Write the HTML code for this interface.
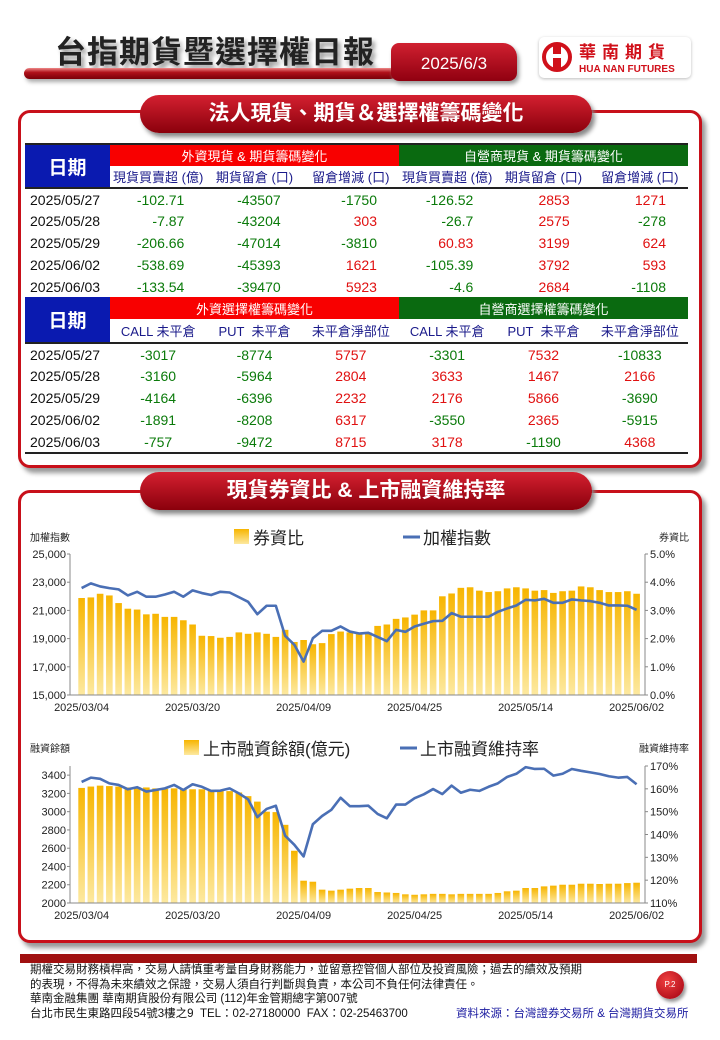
<!DOCTYPE html>
<html><head><meta charset="utf-8">
<style>
*{margin:0;padding:0;box-sizing:border-box}
body{width:720px;height:1040px;background:#fff;position:relative;overflow:hidden;font-family:"Liberation Sans","Noto Sans CJK TC",sans-serif}
.abs{position:absolute}
.title{left:55px;top:27px;font-size:31px;font-weight:bold;color:#222;letter-spacing:1px;text-shadow:3px 4px 4px #999}
.rod{left:24px;top:68px;width:372px;height:11px;border-radius:6px;background:linear-gradient(#e88,#b0101a 40%,#7a0008);box-shadow:2px 3px 4px #aaa}
.date{left:391px;top:43px;width:126px;height:38px;border-radius:8px 14px 8px 8px;background:linear-gradient(#d02030,#900010);color:#fff;font-size:17px;text-align:center;line-height:42px;box-shadow:2px 3px 4px #999}
.logo{left:539px;top:37px;width:152px;height:41px;border-radius:5px;background:#fff;box-shadow:0 1px 3px #bbb}
.box{left:18px;border:3px solid #c8101a;border-radius:12px;box-shadow:4px 5px 5px #999;background:#fff}
.pill{left:140px;width:452px;height:38px;border-radius:19px;background:linear-gradient(#d42030,#8a000c);color:#fff;font-size:21px;font-weight:bold;text-align:center;line-height:38px;box-shadow:3px 4px 5px #888}
table{border-collapse:collapse;position:absolute;left:25px;width:663px;font-size:14px;table-layout:fixed}
td{height:22px;padding:0;white-space:nowrap}
.hd{color:#fff;text-align:center;font-size:13px}
.sub{text-align:center;font-size:13px;color:#1a1a8a}
.g{color:#0a7a0a}.r{color:#e01010}
.n td{text-align:right;padding-right:22px}
.n td:first-child{text-align:left;padding-left:5px;padding-right:0;color:#111}
.m td{text-align:center}
.m td:first-child{text-align:left;padding-left:5px;color:#111}
.foot{left:30px;top:963px;font-size:11.5px;color:#111;line-height:14.5px}
</style></head><body>
<div class="abs title">台指期貨暨選擇權日報</div>
<div class="abs rod"></div>
<div class="abs date">2025/6/3</div>
<div class="abs logo">
 <svg width="152" height="41"><circle cx="18" cy="20" r="13" fill="none" stroke="#d0101a" stroke-width="4"/><rect x="14" y="7" width="8" height="26" fill="#d0101a"/><rect x="11" y="17" width="14" height="4" fill="#fff"/>
 <text x="40" y="21" font-size="17" font-weight="bold" fill="#d0101a" letter-spacing="6" font-family="Liberation Sans,Noto Sans CJK TC,sans-serif">華南期貨</text>
 <text x="40" y="35" font-size="10" font-weight="bold" fill="#d0101a" font-family="Liberation Sans,sans-serif">HUA NAN FUTURES</text></svg>
</div>

<div class="abs box" style="top:110px;width:684px;height:358px"></div>
<div class="abs pill" style="top:95px">法人現貨、期貨＆選擇權籌碼變化</div>

<table style="top:143px;border-bottom:1px solid #222">
<colgroup><col style="width:85px"><col><col><col><col><col><col></colgroup>
<tr><td rowspan="2" class="hd" style="background:#0a1ab0;font-size:19px;font-weight:bold;border-top:2px solid #222">日期</td><td colspan="3" class="hd" style="background:#f80000;border-top:2px solid #222">外資現貨 &amp; 期貨籌碼變化</td><td colspan="3" class="hd" style="background:#0a6a10;border-top:2px solid #222">自營商現貨 &amp; 期貨籌碼變化</td></tr>
<tr style="border-bottom:2px solid #222"><td class="sub">現貨買賣超 (億)</td><td class="sub">期貨留倉 (口)</td><td class="sub">留倉增減 (口)</td><td class="sub">現貨買賣超 (億)</td><td class="sub">期貨留倉 (口)</td><td class="sub">留倉增減 (口)</td></tr>
<tbody class="n">
<tr><td>2025/05/27</td><td class="g">-102.71</td><td class="g">-43507</td><td class="g">-1750</td><td class="g">-126.52</td><td class="r">2853</td><td class="r">1271</td></tr>
<tr><td>2025/05/28</td><td class="g">-7.87</td><td class="g">-43204</td><td class="r">303</td><td class="g">-26.7</td><td class="r">2575</td><td class="g">-278</td></tr>
<tr><td>2025/05/29</td><td class="g">-206.66</td><td class="g">-47014</td><td class="g">-3810</td><td class="r">60.83</td><td class="r">3199</td><td class="r">624</td></tr>
<tr><td>2025/06/02</td><td class="g">-538.69</td><td class="g">-45393</td><td class="r">1621</td><td class="g">-105.39</td><td class="r">3792</td><td class="r">593</td></tr>
<tr><td>2025/06/03</td><td class="g">-133.54</td><td class="g">-39470</td><td class="r">5923</td><td class="g">-4.6</td><td class="r">2684</td><td class="g">-1108</td></tr>
</tbody></table>

<table style="top:297px;border-bottom:2px solid #222">
<colgroup><col style="width:85px"><col><col><col><col><col><col></colgroup>
<tr><td rowspan="2" class="hd" style="background:#0a1ab0;font-size:19px;font-weight:bold">日期</td><td colspan="3" class="hd" style="background:#f80000">外資選擇權籌碼變化</td><td colspan="3" class="hd" style="background:#0a6a10">自營商選擇權籌碼變化</td></tr>
<tr style="border-bottom:2px solid #222"><td class="sub" style="height:24px">CALL 未平倉</td><td class="sub">PUT &nbsp;未平倉</td><td class="sub">未平倉淨部位</td><td class="sub">CALL 未平倉</td><td class="sub">PUT &nbsp;未平倉</td><td class="sub">未平倉淨部位</td></tr>
<tbody class="m">
<tr><td>2025/05/27</td><td class="g">-3017</td><td class="g">-8774</td><td class="r">5757</td><td class="g">-3301</td><td class="r">7532</td><td class="g">-10833</td></tr>
<tr><td>2025/05/28</td><td class="g">-3160</td><td class="g">-5964</td><td class="r">2804</td><td class="r">3633</td><td class="r">1467</td><td class="r">2166</td></tr>
<tr><td>2025/05/29</td><td class="g">-4164</td><td class="g">-6396</td><td class="r">2232</td><td class="r">2176</td><td class="r">5866</td><td class="g">-3690</td></tr>
<tr><td>2025/06/02</td><td class="g">-1891</td><td class="g">-8208</td><td class="r">6317</td><td class="g">-3550</td><td class="r">2365</td><td class="g">-5915</td></tr>
<tr><td>2025/06/03</td><td class="g">-757</td><td class="g">-9472</td><td class="r">8715</td><td class="r">3178</td><td class="g">-1190</td><td class="r">4368</td></tr>
</tbody></table>

<div class="abs box" style="top:490px;width:684px;height:453px"></div>
<div class="abs pill" style="top:472px">現貨券資比 &amp; 上市融資維持率</div>

<svg id="charts" class="abs" style="left:0;top:0" width="720" height="1040">
<defs><linearGradient id="bg" x1="0" y1="0" x2="0" y2="1"><stop offset="0" stop-color="#f7b500"/><stop offset="1" stop-color="#fde9a0"/></linearGradient></defs>
</svg>

<div class="abs" style="left:20px;top:954px;width:677px;height:9px;background:#a01010"></div>
<div class="abs foot">期權交易財務槓桿高，交易人請慎重考量自身財務能力，並留意控管個人部位及投資風險；過去的績效及預期<br>的表現，不得為未來績效之保證，交易人須自行判斷與負責，本公司不負任何法律責任。<br>華南金融集團 華南期貨股份有限公司 (112)年金管期總字第007號<br>台北市民生東路四段54號3樓之9 &nbsp;TEL：02-27180000 &nbsp;FAX：02-25463700</div>
<div class="abs" style="left:456px;top:1005px;font-size:11.5px;color:#1a1aa0">資料來源：台灣證券交易所 &amp; 台灣期貨交易所</div>
<div class="abs" style="left:656px;top:971px;width:28px;height:28px;border-radius:50%;background:radial-gradient(circle at 40% 35%,#f04040,#a00010);color:#fff;font-size:8px;text-align:center;line-height:28px;box-shadow:2px 3px 3px #999">P.2</div>

<script>
const dates=["2025/03/04","2025/03/20","2025/04/09","2025/04/25","2025/05/14","2025/06/02"];
const dateIdx=[0,12,24,36,48,60];
const ratio=[3.44,3.46,3.59,3.53,3.26,3.06,3.03,2.86,2.88,2.77,2.77,2.65,2.5,2.1,2.09,2.03,2.06,2.22,2.17,2.22,2.17,2.06,2.31,1.88,1.95,1.8,1.84,2.16,2.25,2.22,2.2,2.22,2.45,2.5,2.7,2.75,2.85,3.0,3.0,3.5,3.6,3.8,3.82,3.7,3.65,3.68,3.78,3.82,3.78,3.7,3.72,3.62,3.68,3.7,3.85,3.82,3.72,3.65,3.65,3.68,3.59];
const taiex=[22583,22915,22700,22580,22490,22060,22320,21970,21970,22130,22320,21970,22420,22230,22090,22320,22270,21940,21610,20730,21330,21330,19200,18560,17370,19030,19550,19550,19860,19500,19360,19410,19120,18820,19620,19480,19860,20050,20240,20260,20810,20550,20550,20550,20550,20900,21140,21350,21750,21710,21820,21540,21540,21780,21710,21660,21540,21350,21350,21330,21040];
const margin=[3260,3275,3285,3280,3275,3265,3270,3265,3255,3250,3255,3250,3245,3245,3240,3235,3225,3210,3170,3110,3000,2995,2856,2572,2244,2233,2146,2135,2146,2157,2164,2164,2120,2115,2110,2095,2090,2095,2100,2100,2095,2100,2100,2100,2100,2110,2128,2135,2164,2164,2182,2190,2200,2200,2211,2211,2208,2211,2211,2218,2222];
const maint=[163.0,164.9,164.4,162.4,161.7,159.8,160.7,158.8,159.5,160.2,161.7,159.5,162.0,160.9,159.1,159.2,160.2,158.0,155.4,147.6,151.2,152.6,139.5,135.5,130.4,144.5,148.1,150.8,156.1,152.4,152.4,152.6,149.0,147.1,153.1,153.1,155.9,157.6,159.9,157.7,161.4,158.3,159.6,159.1,160.9,162.4,165.2,166.6,169.5,168.7,168.8,165.8,166.6,168.7,167.9,167.2,166.5,165.5,164.9,165.2,162.0];
const t1L=[15000,17000,19000,21000,23000,25000];
const t1R=[0,1,2,3,4,5];
const t2L=[2000,2200,2400,2600,2800,3000,3200,3400];
const t2R=[110,120,130,140,150,160,170];

const svg=document.getElementById('charts');
const NS='http://www.w3.org/2000/svg';
function mk(tag,attrs,txt){const e=document.createElementNS(NS,tag);for(const k in attrs)e.setAttribute(k,attrs[k]);if(txt!==undefined)e.textContent=txt;svg.appendChild(e);return e;}
const x0=81.6,x1=636.6;
const xs=i=>x0+(x1-x0)*i/60;
function fmt(v){return v.toLocaleString('en-US');}

function chart(o){
  const yL=v=>o.bot-(v-o.lmin)/(o.lmax-o.lmin)*(o.bot-o.top);
  const yR=v=>o.bot-(v-o.rmin)/(o.rmax-o.rmin)*(o.bot-o.top);
  const yB=o.barRight?yR:yL, yN=o.barRight?yL:yR;
  o.bars.forEach((v,i)=>{
    const b=mk('rect',{x:xs(i)-3.3,y:yB(v),width:6.6,height:o.bot-yB(v),fill:'url(#bg)'});
    
    
  });
  const ax=mk('path',{d:`M${o.lx} ${o.top}V${o.bot}H${o.rx}V${o.top}`,stroke:'#888',fill:'none','stroke-width':1});
  
  
  o.tl.forEach(v=>{const t=mk('text',{x:o.lx-4,y:yL(v)+4,'font-size':11,'text-anchor':'end',fill:'#222'},o.lf(v));
    
    mk('line',{x1:o.lx-3,x2:o.lx,y1:yL(v),y2:yL(v),stroke:'#888'});});
  o.tr.forEach(v=>{const t=mk('text',{x:o.rx+5,y:yR(v)+4,'font-size':11,fill:'#222'},o.rf(v));
    
    mk('line',{x1:o.rx,x2:o.rx+3,y1:yR(v),y2:yR(v),stroke:'#888'});});
  dates.forEach((d,k)=>{const t=mk('text',{x:xs(dateIdx[k]),y:o.bot+16,'font-size':11,'text-anchor':'middle',fill:'#222'},d);
    });
  const p=mk('polyline',{points:o.line.map((v,i)=>xs(i)+','+yN(v)).join(' '),fill:'none',stroke:'#4a6fb5','stroke-width':2.6,'stroke-linejoin':'round'});
  
  
}
chart({top:554,bot:695,lx:70,rx:645,lmin:15000,lmax:25000,rmin:0,rmax:5,bars:ratio,barRight:true,line:taiex,tl:t1L,tr:t1R,lf:fmt,rf:v=>v.toFixed(1)+'%'});
chart({top:766,bot:903,lx:70,rx:645,lmin:2000,lmax:3500,rmin:110,rmax:170,bars:margin,barRight:false,line:maint,tl:t2L,tr:t2R,lf:v=>String(v),rf:v=>v+'%'});

function legend(y,sq,txt1,lx,txt2){
  const r=mk('rect',{x:sq,y:y-8,width:15,height:15,fill:'url(#bg)'});
  const a=mk('text',{x:sq+19,y:y+7,'font-size':17,fill:'#222'},txt1);
  const l=mk('line',{x1:lx,x2:lx+17,y1:y,y2:y,stroke:'#4a6fb5','stroke-width':3});
  const b=mk('text',{x:lx+20,y:y+7,'font-size':17,fill:'#222'},txt2);
}
legend(537,234,'券資比',403,'加權指數');
legend(748,184,'上市融資餘額(億元)',400,'上市融資維持率');
[[30,541,'加權指數','start'],[689,541,'券資比','end'],[30,752,'融資餘額','start'],[689,752,'融資維持率','end']].forEach(a=>{
  const t=mk('text',{x:a[0],y:a[1],'font-size':10,'text-anchor':a[3],fill:'#222'},a[2]);
  
  
});
</script>
</body></html>
